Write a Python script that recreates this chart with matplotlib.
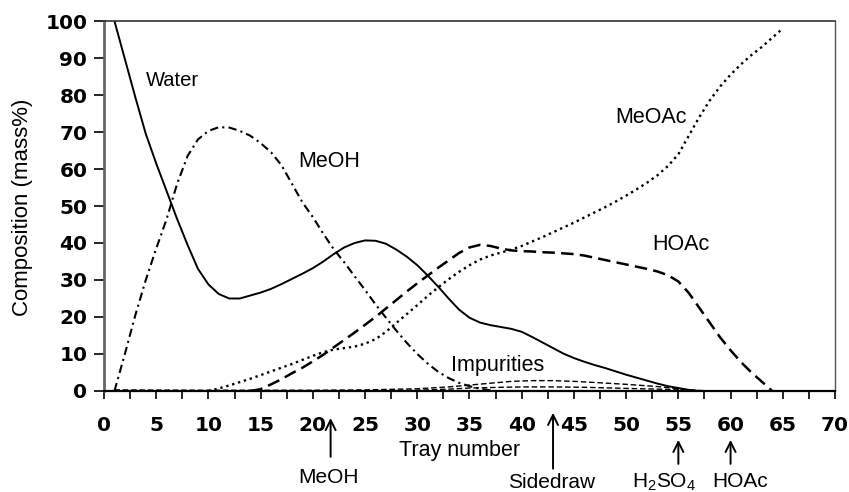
import numpy as np
from matplotlib import pyplot as plt
from matplotlib.ticker import MultipleLocator

plt.rcParams['font.family'] = ['Liberation Sans', 'DejaVu Sans']
plt.rcParams['mathtext.fontset'] = 'custom'
plt.rcParams['mathtext.rm'] = 'Liberation Sans'

# Composition profiles (mass%) vs tray number

water_x = [1, 2, 3, 4, 5, 6, 7, 8, 9, 10, 11, 12, 13, 14, 15, 16, 17, 18, 19, 20,
           21, 22, 23, 24, 25, 26, 27, 28, 29, 30, 31, 32, 33, 34, 35, 36, 37, 38, 39, 40,
           41, 42, 43, 44, 45, 46, 47, 48, 49, 50, 51, 52, 53, 54, 55, 56, 57]
water_y = [100, 89.7, 79.4, 69.5, 61.5, 54, 46.5, 39.5, 33, 28.8, 26.2, 25, 25, 25.8, 26.6, 27.6, 28.9, 30.3, 31.7, 33.2,
           35, 37, 38.8, 40, 40.7, 40.6, 39.8, 38.2, 36.3, 34, 31.2, 28.2, 25, 22, 19.8, 18.5, 17.8, 17.3, 16.8, 16,
           14.6, 13.1, 11.6, 10.1, 8.9, 7.9, 7, 6.2, 5.3, 4.4, 3.6, 2.8, 2.0, 1.3, 0.8, 0.3, 0]

meoh_x = [1, 2, 3, 4, 5, 6, 7, 8, 9, 10, 11, 12, 13, 14, 15, 16, 17, 18, 19, 20,
          21, 22, 23, 24, 25, 26, 27, 28, 29, 30, 31, 32, 33, 34, 35, 36, 37]
meoh_y = [0, 10, 20.5, 30, 38.5, 46.5, 56, 63.5, 68, 70.3, 71.3, 71.2, 70.3, 69, 67, 64.5, 61, 56, 51, 47,
          42.5, 38.3, 34.8, 31, 27.3, 23.4, 19.8, 16.3, 13, 10, 7.4, 5.2, 3.5, 2.2, 1.3, 0.6, 0.2]

hoac_x = [14, 15, 16, 17, 18, 19, 20, 21, 22, 23, 24, 25, 26, 27, 28, 29, 30, 31, 32, 33,
          34, 35, 36, 37, 38, 39, 40, 41, 42, 43, 44, 45, 46, 47, 48, 49, 50, 51, 52, 53,
          54, 55, 56, 57, 58, 59, 60, 61, 62, 63, 64]
hoac_y = [0, 0.5, 1.8, 3.2, 4.8, 6.3, 8, 9.8, 11.8, 13.8, 15.8, 17.9, 20, 22.3, 24.6, 26.9, 29.1, 31.2, 33.3, 35.3,
          37.3, 38.8, 39.5, 39.2, 38.5, 38, 37.8, 37.7, 37.5, 37.4, 37.2, 37, 36.6, 36, 35.4, 34.8, 34.2, 33.6, 33, 32.3,
          31.3, 29.6, 26.5, 22.5, 18.5, 14.5, 11, 7.8, 5, 2.5, 0]

meoac_x = [10, 11, 12, 13, 14, 15, 16, 17, 18, 19, 20, 21, 22, 23, 24, 25, 26, 27, 28, 29,
           30, 31, 32, 33, 34, 35, 36, 37, 38, 39, 40, 41, 42, 43, 44, 45, 46, 47, 48, 49,
           50, 51, 52, 53, 54, 55, 56, 57, 58, 59, 60, 61, 62, 63, 64, 65]
meoac_y = [0, 0.7, 1.5, 2.4, 3.3, 4.3, 5.3, 6.3, 7.3, 8.4, 9.5, 10.5, 11.2, 11.6, 12, 12.8, 14, 16, 18.4, 20.8,
           23.2, 25.7, 28, 30.2, 32.2, 34, 35.5, 36.6, 37.4, 38.2, 39.2, 40.4, 41.6, 42.9, 44.2, 45.5, 46.9, 48.3, 49.7, 51.2,
           52.8, 54.5, 56.3, 58.3, 60.8, 64, 69, 74, 78.5, 82.3, 85.5, 88.3, 90.8, 93, 95.5, 98]

imp1_x = [1, 10, 20, 25, 30, 33, 35, 37, 39, 41, 43, 45, 47, 50, 53, 55, 57]
imp1_y = [0.3, 0.2, 0.2, 0.3, 0.6, 1.1, 1.6, 2.1, 2.6, 2.8, 2.8, 2.6, 2.3, 1.8, 1.2, 0.6, 0]

imp2_x = [25, 30, 33, 35, 38, 40, 43, 46, 50, 53, 56, 58]
imp2_y = [0, 0.2, 0.5, 0.8, 1.0, 1.1, 1.1, 1.0, 0.7, 0.5, 0.3, 0]

# feed / draw locations below the axis (y in axes fraction)
feed_x = [21.7, 43, 55, 60]
feed_label_x = [21.5, 42.9, 53.6, 60.9]
feed_names = ['MeOH', 'Sidedraw', r'H$_\mathregular{2}$SO$_\mathregular{4}$', 'HOAc']
feed_tip = [-0.073, -0.059, -0.132, -0.132]
feed_tail = [-0.178, -0.21, -0.197, -0.197]
feed_label_y = [-0.249, -0.262, -0.26, -0.26]

fig = plt.figure(figsize=(8.49, 4.92), dpi=100)
ax = fig.add_axes([0.1225, 0.2053, 0.861, 0.752])

ax.plot(water_x, water_y, color='black', lw=1.4, ls='-')
ax.plot(meoh_x, meoh_y, color='black', lw=1.5, ls=(0, (4, 2, 1, 2)))
ax.plot(hoac_x, hoac_y, color='black', lw=1.8, ls=(0, (5, 2.5)))
ax.plot(meoac_x, meoac_y, color='black', lw=1.7, ls=(0, (1, 1.6)))
ax.plot(imp1_x, imp1_y, color='black', lw=1.0, ls=(0, (4, 2)))
ax.plot(imp2_x, imp2_y, color='black', lw=1.0, ls=(0, (4, 2)))

ax.set_xlim(0, 70)
ax.set_ylim(0, 100)
ax.xaxis.set_major_locator(MultipleLocator(5))
ax.xaxis.set_minor_locator(MultipleLocator(2.5))
ax.yaxis.set_major_locator(MultipleLocator(10))

ax.tick_params(axis='x', which='both', direction='out', length=6, width=1.2, pad=12)
ax.tick_params(axis='y', direction='out', length=7, width=1.2, pad=5)
for lab in ax.get_xticklabels() + ax.get_yticklabels():
    lab.set_fontweight('bold')
    lab.set_family('DejaVu Sans')
    lab.set_fontsize(14.5)

ax.spines['left'].set_color('#666666')
ax.spines['left'].set_linewidth(2.0)
ax.spines['bottom'].set_linewidth(1.6)
ax.spines['top'].set_linewidth(1.2)
ax.spines['top'].set_color('#333333')
ax.spines['right'].set_linewidth(1.0)
ax.spines['right'].set_color('#555555')

ax.set_ylabel('Composition (mass%)', fontsize=16)
ax.yaxis.set_label_coords(-0.097, 0.497)
ax.set_xlabel('Tray number', fontsize=15.5)
ax.xaxis.set_label_coords(0.487, -0.132)

ax.text(6.6, 83.8, 'Water', fontsize=14.5, ha='center', va='center')
ax.text(21.6, 62, 'MeOH', fontsize=15.5, ha='center', va='center')
ax.text(52.4, 74, 'MeOAc', fontsize=15.5, ha='center', va='center')
ax.text(55.2, 39.5, 'HOAc', fontsize=15.5, ha='center', va='center')
ax.text(37.7, 7, 'Impurities', fontsize=15.5, ha='center', va='center')

trans = ax.get_xaxis_transform()
for x, lx, name, tip, tail, ly in zip(feed_x, feed_label_x, feed_names, feed_tip, feed_tail, feed_label_y):
    ax.annotate('', xy=(x, tip), xytext=(x, tail), xycoords=trans, textcoords=trans,
                arrowprops=dict(arrowstyle='->', lw=1.4, color='black',
                                mutation_scale=18, shrinkA=0, shrinkB=0),
                annotation_clip=False)
    ax.text(lx, ly, name, transform=trans, fontsize=15, ha='center', va='baseline')

plt.savefig('out.png', dpi=100)
